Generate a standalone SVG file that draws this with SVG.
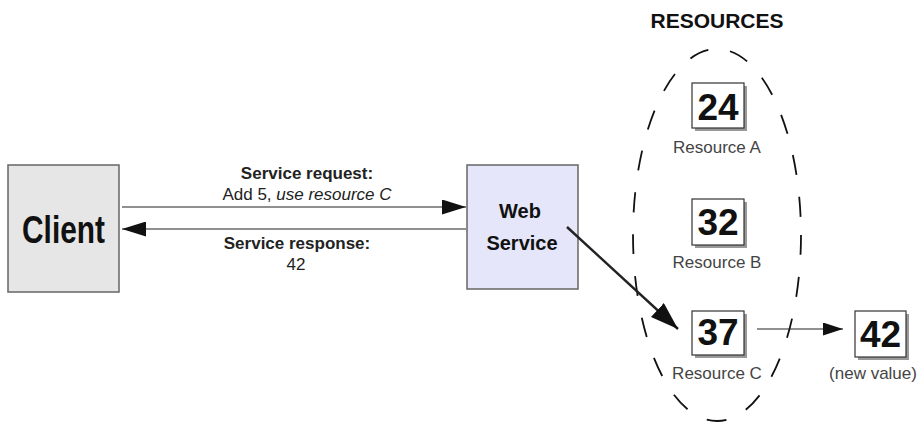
<svg xmlns="http://www.w3.org/2000/svg" width="922" height="423" viewBox="0 0 922 423">
<style>
text{font-family:"Liberation Sans",Arial,sans-serif;fill:#111}
.b{font-weight:bold}
.lbl{font-size:17px;text-anchor:middle;fill:#222}
.num{font-size:37px;font-weight:bold;text-anchor:middle}
.res{font-size:17px;text-anchor:middle;fill:#444}
.vbox{fill:#fff;stroke:#333;stroke-width:1.2}
.shadow{fill:#999}
.conn{stroke:#222;fill:none}
</style>
<defs>
<marker id="ahL" markerWidth="24" markerHeight="15" refX="24" refY="7.5" orient="auto" markerUnits="userSpaceOnUse" viewBox="0 0 24 15"><path d="M0,0 L24,7.5 L0,15 z" fill="#111"/></marker>
<marker id="ahD" markerWidth="28" markerHeight="19" refX="28" refY="9.5" orient="auto" markerUnits="userSpaceOnUse" viewBox="0 0 28 19"><path d="M0,0 L28,9.5 L0,19 z" fill="#111"/></marker>
<marker id="ahM" markerWidth="20" markerHeight="13" refX="20" refY="6.5" orient="auto" markerUnits="userSpaceOnUse" viewBox="0 0 20 13"><path d="M0,0 L20,6.5 L0,13 z" fill="#111"/></marker>
</defs>
<rect width="922" height="423" fill="#fff"/>

<g id="client">
<rect x="8" y="165" width="111" height="127" fill="#e6e6e6" stroke="#666" stroke-width="1.5"/>
<text x="22" y="243" font-size="39" font-weight="bold" textLength="83" lengthAdjust="spacingAndGlyphs">Client</text>
</g>

<g id="webservice">
<rect x="467" y="165" width="111" height="124" fill="#e6e6fa" stroke="#666" stroke-width="1.5"/>
<text x="520" y="218" class="b" font-size="20" text-anchor="middle">Web</text>
<text x="522" y="250" class="b" font-size="20" text-anchor="middle">Service</text>
</g>

<g id="resources-label">
<text x="717" y="28" class="b" font-size="21" text-anchor="middle">RESOURCES</text>
</g>

<g id="resources-group">
<ellipse cx="717" cy="235" rx="84" ry="186" fill="none" stroke="#111" stroke-width="1.8" stroke-dasharray="20,22"/>
</g>

<g id="resA">
<rect x="695" y="86" width="52" height="45" class="shadow"/>
<rect x="692" y="83" width="52" height="45" class="vbox"/>
<text x="718" y="120" class="num">24</text>
<text x="717" y="153" class="res">Resource A</text>
</g>

<g id="resB">
<rect x="695" y="202" width="52" height="46" class="shadow"/>
<rect x="692" y="199" width="52" height="46" class="vbox"/>
<text x="718" y="235" class="num">32</text>
<text x="717" y="268" class="res">Resource B</text>
</g>

<g id="resC">
<rect x="695" y="314" width="52" height="44" class="shadow"/>
<rect x="692" y="311" width="52" height="44" class="vbox"/>
<text x="718" y="345" class="num">37</text>
<text x="717" y="379" class="res">Resource C</text>
</g>

<g id="newval">
<rect x="858" y="314" width="51" height="46" class="shadow"/>
<rect x="855" y="311" width="51" height="46" class="vbox"/>
<text x="880.5" y="347" class="num">42</text>
<text x="873" y="379" class="res">(new value)</text>
</g>

<g id="connectors">
<line x1="122" y1="207" x2="466" y2="207" class="conn" stroke-width="1.2" marker-end="url(#ahL)"/>
<line x1="466" y1="229" x2="122" y2="229" class="conn" stroke-width="1.2" marker-end="url(#ahL)"/>
<line x1="567" y1="227" x2="678" y2="329" class="conn" stroke-width="2.4" marker-end="url(#ahD)"/>
<line x1="757" y1="329" x2="843" y2="329" class="conn" stroke-width="1.2" marker-end="url(#ahM)"/>
<text x="307" y="179" class="lbl b">Service request:</text>
<text x="307" y="200" class="lbl">Add 5, <tspan font-style="italic">use resource C</tspan></text>
<text x="297" y="249" class="lbl b">Service response:</text>
<text x="296" y="270" class="lbl">42</text>
</g>
</svg>
